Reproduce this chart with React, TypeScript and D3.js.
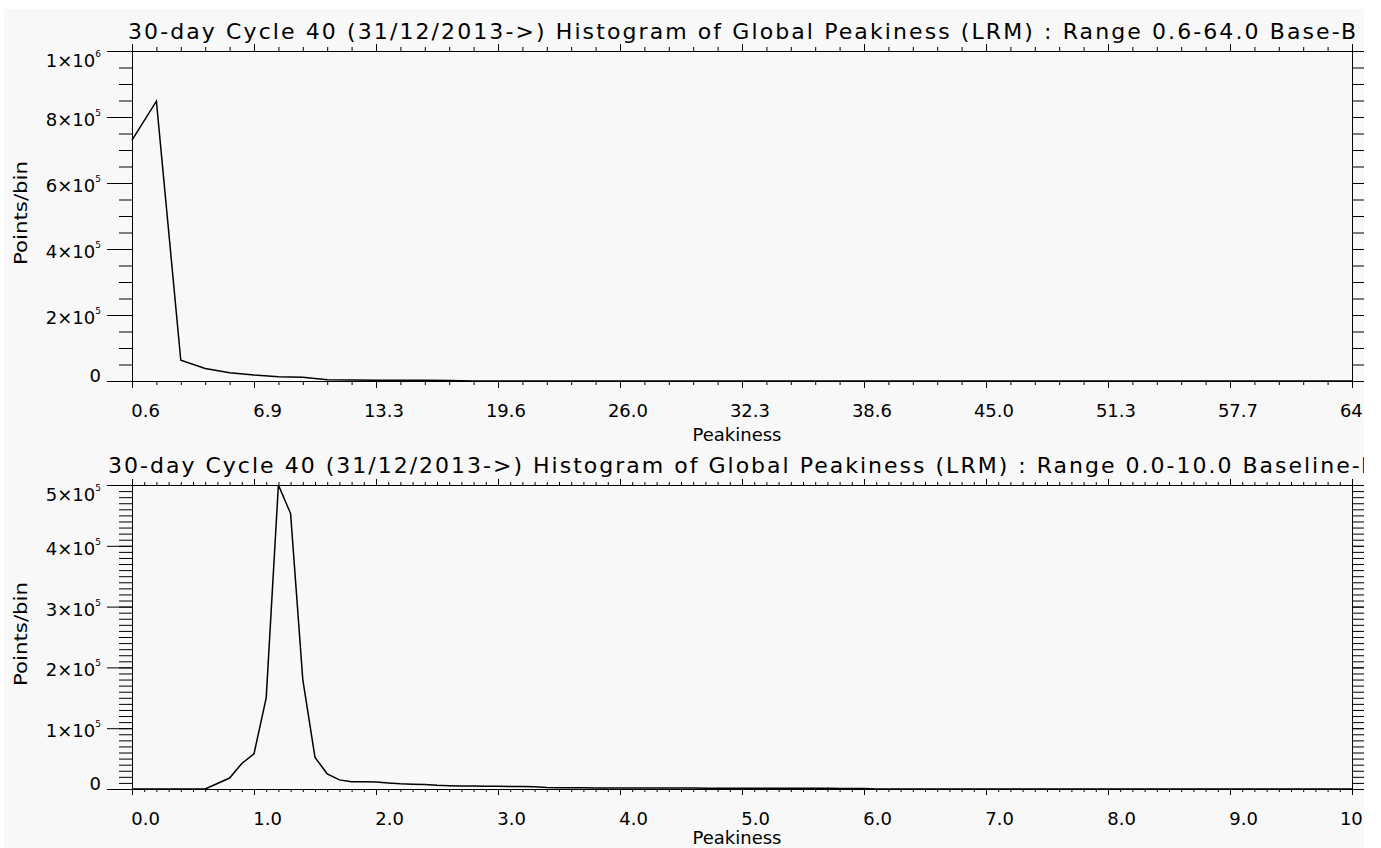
import { useEffect, useRef } from 'react';
import * as d3 from 'd3';

// Histogram of global peakiness, two IDL-style panels

const TOP_TITLE = '30-day Cycle 40 (31/12/2013->) Histogram of Global Peakiness (LRM) :  Range 0.6-64.0 Base-B';
const BOTTOM_TITLE = '30-day Cycle 40 (31/12/2013->) Histogram of Global Peakiness (LRM) :  Range 0.0-10.0 Baseline-B';
const X_LABEL = 'Peakiness';
const Y_LABEL = 'Points/bin';

// top panel: 50 bins of width 1.268 from 0.6 to 64.0
const topRange = [0.6, 64.0];
const topBinWidth = 1.268;
const topValues = [
    730000, 848000, 63000, 38000, 25000, 18000, 13000, 11000, 3500, 3000,
    2500, 2200, 2000, 1500, 0, 0, 0, 0, 0, 0,
    0, 0, 0, 0, 0, 0, 0, 0, 0, 0,
    0, 0, 0, 0, 0, 0, 0, 0, 0, 0,
    0, 0, 0, 0, 0, 0, 0, 0, 0, 0,
    0
];
const topXTicks = [0.6, 6.94, 13.28, 19.62, 25.96, 32.3, 38.64, 44.98, 51.32, 57.66, 64.0];
const topYTicks = [0, 2e5, 4e5, 6e5, 8e5, 1e6];
const topYLabels = [['0', ''], ['2×10', '5'], ['4×10', '5'], ['6×10', '5'], ['8×10', '5'], ['1×10', '6']];

// bottom panel: 100 bins of width 0.1 from 0.0 to 10.0
const bottomRange = [0.0, 10.0];
const bottomBinWidth = 0.1;
const bottomValues = [
    0, 0, 0, 0, 0, 0, 0, 9000, 18000, 42000,
    58000, 150000, 500000, 453000, 180000, 52000, 25000, 15000, 12000, 12000,
    11500, 10000, 8500, 8000, 7500, 6000, 5500, 5000, 5000, 4500,
    4500, 4000, 4000, 3800, 2500, 2200, 2000, 2000, 1800, 1800,
    1700, 1700, 1600, 1600, 1500, 1500, 1500, 1400, 1400, 1300,
    1300, 1300, 1200, 1200, 1200, 1100, 1100, 1100, 1000, 1000,
    1000, 0, 0, 0, 0, 0, 0, 0, 0, 0,
    0, 0, 0, 0, 0, 0, 0, 0, 0, 0,
    0, 0, 0, 0, 0, 0, 0, 0, 0, 0,
    0, 0, 0, 0, 0, 0, 0, 0, 0, 0,
    0
];
const bottomXTicks = [0, 1, 2, 3, 4, 5, 6, 7, 8, 9, 10];
const bottomYTicks = [0, 1e5, 2e5, 3e5, 4e5, 5e5];
const bottomYLabels = [['0', ''], ['1×10', '5'], ['2×10', '5'], ['3×10', '5'], ['4×10', '5'], ['5×10', '5']];

const WIDTH = 1381;
const HEIGHT = 848;
const FONT = '"DejaVu Sans", sans-serif';

const App = () => {
    const svgRef = useRef<SVGSVGElement>(null);

    useEffect(() => {
        if (!svgRef.current) return;
        const root = d3.select(svgRef.current);
        root.selectAll('*').remove();

        root.append('defs').append('clipPath').attr('id', 'frame')
            .append('rect').attr('x', 0).attr('y', 0).attr('width', 1364).attr('height', HEIGHT);

        const svg = root.append('g').attr('clip-path', 'url(#frame)');

        svg.append('rect')
            .attr('x', 4).attr('y', 9)
            .attr('width', 1360).attr('height', HEIGHT - 9)
            .attr('fill', '#f8f8f8');

        const left = 132;
        const right = 1352;

        const panels = [
            {
                title: TOP_TITLE, titleLen: 1228, top: 51, bottom: 381,
                range: topRange, binWidth: topBinWidth, values: topValues,
                xTicks: topXTicks, yTicks: topYTicks, yLabels: topYLabels,
                yMinorStep: 5e4, xMajorLen: 7, xMinorLen: 4
            },
            {
                title: BOTTOM_TITLE, titleLen: 1268, top: 485, bottom: 789,
                range: bottomRange, binWidth: bottomBinWidth, values: bottomValues,
                xTicks: bottomXTicks, yTicks: bottomYTicks, yLabels: bottomYLabels,
                yMinorStep: 1e4, xMajorLen: 6, xMinorLen: 3
            }
        ];

        panels.forEach(p => {
            const yMax = p.yTicks[p.yTicks.length - 1];
            const x = d3.scaleLinear().domain(p.range).range([left, right]);
            const y = d3.scaleLinear().domain([0, yMax]).range([p.bottom, p.top]);

            const xMinor = d3.range(p.values.length).map(i => p.range[0] + i * p.binWidth);
            const yMinor = d3.range(0, yMax + p.yMinorStep / 2, p.yMinorStep);

            const g = svg.append('g');

            const axis = (gen: any, tx: number, ty: number) => {
                g.append('g')
                    .attr('transform', `translate(${tx},${ty})`)
                    .call(gen)
                    .call((s: any) => s.selectAll('text').remove())
                    .call((s: any) => s.selectAll('path, line').attr('stroke', '#000'));
            };

            // x axes (bottom & top), ticks pointing outward
            axis(d3.axisBottom(x).tickValues(xMinor).tickSize(p.xMinorLen).tickSizeOuter(0), 0, p.bottom);
            axis(d3.axisBottom(x).tickValues(p.xTicks).tickSize(p.xMajorLen).tickSizeOuter(0), 0, p.bottom);
            axis(d3.axisTop(x).tickValues(xMinor).tickSize(p.xMinorLen).tickSizeOuter(0), 0, p.top);
            axis(d3.axisTop(x).tickValues(p.xTicks).tickSize(p.xMajorLen).tickSizeOuter(0), 0, p.top);

            // y axes (left & right)
            axis(d3.axisLeft(y).tickValues(yMinor).tickSize(13).tickSizeOuter(0), left, 0);
            axis(d3.axisLeft(y).tickValues(p.yTicks).tickSize(25).tickSizeOuter(0), left, 0);
            axis(d3.axisRight(y).tickValues(yMinor).tickSize(13).tickSizeOuter(0), right, 0);
            axis(d3.axisRight(y).tickValues(p.yTicks).tickSize(25).tickSizeOuter(0), right, 0);

            // histogram line
            const line = d3.line<number>()
                .x((_, i) => x(xMinor[i]))
                .y(d => y(d));

            g.append('path')
                .datum(p.values)
                .attr('fill', 'none')
                .attr('stroke', '#000')
                .attr('stroke-width', 1.5)
                .attr('stroke-linejoin', 'miter')
                .attr('d', line);

            // x tick labels
            g.selectAll('.xlab')
                .data(p.xTicks)
                .enter()
                .append('text')
                .attr('x', d => x(d) + 28)
                .attr('y', p.bottom + 36)
                .attr('text-anchor', 'end')
                .style('font-family', FONT)
                .style('font-size', '18px')
                .text(d => d3.format('.1f')(d));

            // y tick labels with exponent
            p.yTicks.forEach((v, i) => {
                const [base, exp] = p.yLabels[i];
                const dy = v === 0 ? 1 : (v === yMax ? 16 : 9);
                const t = g.append('text')
                    .attr('x', 101)
                    .attr('y', y(v) + dy)
                    .attr('text-anchor', 'end')
                    .style('font-family', FONT)
                    .style('font-size', '18px');
                t.append('tspan').text(base);
                if (exp) {
                    t.append('tspan')
                        .attr('dy', -10)
                        .style('font-size', '9px')
                        .text(exp);
                }
            });

            // axis titles
            g.append('text')
                .attr('x', 737)
                .attr('y', Math.min(p.bottom + 60, HEIGHT - 4))
                .attr('text-anchor', 'middle')
                .style('font-family', FONT)
                .style('font-size', '18px')
                .text(X_LABEL);

            g.append('text')
                .attr('transform', `translate(27,${(p.top + p.bottom) / 2 - 3}) rotate(-90)`)
                .attr('text-anchor', 'middle')
                .attr('textLength', 104)
                .attr('lengthAdjust', 'spacingAndGlyphs')
                .style('font-family', FONT)
                .style('font-size', '18px')
                .text(Y_LABEL);

            // panel title
            g.append('text')
                .attr('x', 742)
                .attr('y', p.top - 12)
                .attr('text-anchor', 'middle')
                .attr('textLength', p.titleLen)
                .attr('lengthAdjust', 'spacing')
                .style('font-family', FONT)
                .style('font-size', '22px')
                .text(p.title);
        });
    }, []);

    return (
        <svg
            ref={svgRef}
            width={WIDTH}
            height={HEIGHT}
            style={{ position: 'absolute', left: 0, top: 0, background: '#fff' }}
            role="img"
            aria-label="Histograms of global peakiness"
        />
    );
};

export default App;
